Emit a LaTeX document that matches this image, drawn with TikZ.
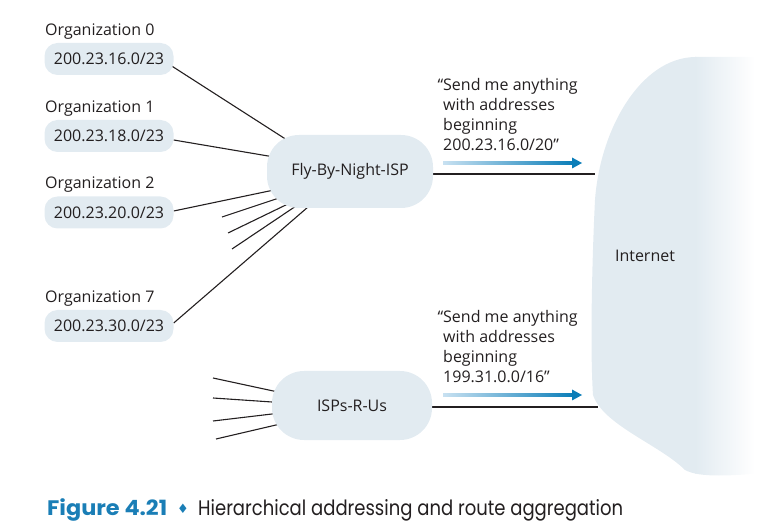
\documentclass[tikz,border=0pt]{standalone}
\usepackage{fontspec}
\setmainfont{Open Sans}
\newfontfamily\capfont{Poppins}
\newfontfamily\symfont{DejaVu Sans}
\usetikzlibrary{backgrounds,calc}
\definecolor{blobcol}{HTML}{E2EBF1}
\definecolor{inkcol}{HTML}{231F20}
\definecolor{arrowdark}{HTML}{0A7DB8}
\definecolor{arrowlight}{HTML}{C8E1F1}
\definecolor{figblue}{HTML}{1A7EB6}
\begin{document}
\begin{tikzpicture}[x=1pt,y=-1pt,
  font=\fontsize{16}{20}\selectfont,
  every node/.style={text=inkcol},
  orgblob/.style={fill=blobcol, rounded corners=13pt, minimum width=129pt, minimum height=32pt, inner sep=0pt},
  ispblob/.style={fill=blobcol, rounded corners=32pt, inner sep=0pt},
  orglabel/.style={anchor=base west, inner sep=0pt},
  quoteline/.style={anchor=base west, inner sep=0pt},
  wire/.style={draw=inkcol, line width=1.1pt},
  sendarrow/.style={left color=arrowlight, right color=arrowdark}
]
\useasboundingbox (0,0) rectangle (777,529);

% organization labels
\node[orglabel] (l0) at (45,35.5) {Organization 0};
\node[orglabel] (l1) at (45,112.5) {Organization 1};
\node[orglabel] (l2) at (45,188.5) {Organization 2};
\node[orglabel] (l7) at (45,302.5) {Organization 7};

% organization blobs
\node[orgblob] (b0) at (109,59) {200.23.16.0/23};
\node[orgblob] (b1) at (109,136) {200.23.18.0/23};
\node[orgblob] (b2) at (109,212.5) {200.23.20.0/23};
\node[orgblob] (b7) at (109,326) {200.23.30.0/23};

% ISPs
\node[ispblob, minimum width=166pt, minimum height=73pt] (fbn) at (350,171.5) {Fly-By-Night-ISP};
\node[ispblob, minimum width=160pt, minimum height=69pt] (isp) at (352,405.5) {ISPs-R-Us};

% Internet
\node (inet) at (645,256) {Internet};

% free ends and contact points
\coordinate (f0) at (287,140);
\coordinate (f1) at (280,158);
\coordinate (f2) at (274,190);
\coordinate (f3) at (282,197);
\coordinate (f4) at (292,202);
\coordinate (f5) at (299,204);
\coordinate (f7) at (308,207);
\coordinate (e3) at (222,217);
\coordinate (e4) at (228,233);
\coordinate (e5) at (232,249);
\coordinate (r1) at (213,378);
\coordinate (r2) at (213,398);
\coordinate (r3) at (213,421);
\coordinate (r4) at (216,439);
\coordinate (s1) at (278,392);
\coordinate (s2) at (272,402);
\coordinate (s3) at (272,414);
\coordinate (s4) at (276,425);
\coordinate (inA) at (595,174);
\coordinate (inB) at (598,407);

\begin{scope}[on background layer]
  % Internet cloud, fading to white on the right
  \begin{scope}
    \clip (777,57) -- (695,57)
      .. controls (640,58) and (600,130) .. (595,200)
      .. controls (592,260) and (590,350) .. (593,395)
      .. controls (603,425) and (660,445) .. (685,470)
      .. controls (700,478) and (730,476) .. (777,472) -- cycle;
    \fill[blobcol] (585,50) rectangle (696,485);
    \shade[left color=blobcol, right color=white] (695,50) rectangle (755,485);
    \fill[white] (754,50) rectangle (777,485);
  \end{scope}
  % connectors
  \draw[wire, shorten >=-6pt] ($(b0.east)+(-2,7)$) -- (f0);
  \draw[wire, shorten >=-6pt] ($(b1.east)+(0,4)$) -- (f1);
  \draw[wire, shorten >=-6pt] ($(b2.east)+(0,-1.5)$) -- (f2);
  \draw[wire, shorten >=-6pt] (e3) -- (f3);
  \draw[wire, shorten >=-6pt] (e4) -- (f4);
  \draw[wire, shorten >=-6pt] (e5) -- (f5);
  \draw[wire, shorten >=-6pt] ($(b7.east)+(0,-3)$) -- (f7);
  \draw[wire, shorten >=-6pt] (r1) -- (s1);
  \draw[wire, shorten >=-6pt] (r2) -- (s2);
  \draw[wire, shorten >=-6pt] (r3) -- (s3);
  \draw[wire, shorten >=-6pt] (r4) -- (s4);
  \draw[wire] (fbn.east |- inA) -- (inA);
  \draw[wire] (isp.east |- inB) -- (inB);
\end{scope}

% advertisement texts
\node[quoteline] (q1a) at (443,91) {\llap{“}Send me anything};
\node[quoteline] (q1b) at (443,111) {with addresses};
\node[quoteline] (q1c) at (443,131) {beginning};
\node[quoteline] (q1d) at (443,151) {200.23.16.0/20”};
\node[quoteline] (q2a) at (443,323) {\llap{“}Send me anything};
\node[quoteline] (q2b) at (443,343) {with addresses};
\node[quoteline] (q2c) at (443,363) {beginning};
\node[quoteline] (q2d) at (443,383) {199.31.0.0/16”};

% gradient arrows
\shade[sendarrow] (443,161.3) rectangle (574,164.7);
\fill[arrowdark] (572,157.5) -- (582,163) -- (572,168.5) -- cycle;
\shade[sendarrow] (443,393.3) rectangle (574,396.7);
\fill[arrowdark] (572,389.5) -- (582,395) -- (572,400.5) -- cycle;

% caption
\node[anchor=base west, inner sep=0pt, font=\capfont\fontsize{21}{24}\selectfont] (fig) at (47,515)
  {\resizebox{120pt}{\height}{\bfseries\color{figblue}Figure 4.21}};
\node[anchor=base, inner sep=0pt, font=\symfont\fontsize{13}{14}\selectfont, text=figblue] (dia) at (183,513) {♦};
\node[anchor=base west, inner sep=0pt, font=\capfont\fontsize{21}{24}\selectfont] (cap) at (198,515)
  {\resizebox{425pt}{\height}{Hierarchical addressing and route aggregation}};
\end{tikzpicture}
\end{document}
